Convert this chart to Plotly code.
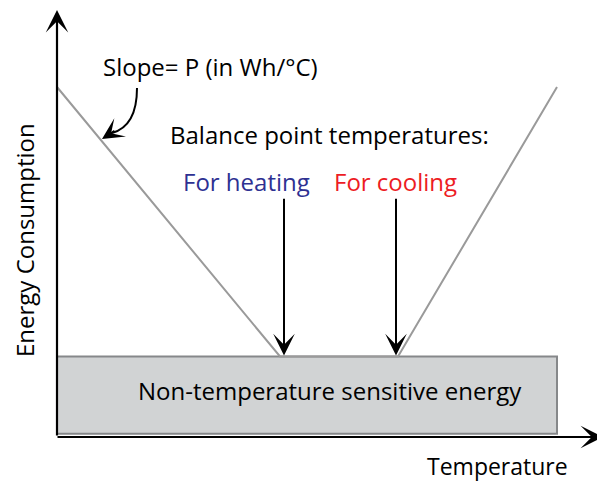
import plotly.graph_objects as go

# Conceptual data (arbitrary units)
temp_points = [0, 44.6, 68.2, 100]          # temperature
energy_points = [100, 23, 23, 100]          # energy consumption
base_energy = [0.9, 23]                     # non-temperature sensitive band
base_temp = [0, 100]
heat_bp = 44.6
cool_bp = 68.2
arrow_top = 68.5

OFF = 8                      # default page body margin
W, H = 605 - OFF, 483 - OFF  # figure size
# page-pixel <-> data mapping helpers (t=0 at px 57, 5px/unit; e=0 at py 437, 3.5px/unit)
def px2x(px): return (px - 57) / 5.0
def py2y(py): return (437 - py) / 3.5

FONT = "Open Sans"
FS = 24

fig = go.Figure()

fig.add_shape(type="rect", x0=base_temp[0], x1=base_temp[1], y0=base_energy[0], y1=base_energy[1],
              fillcolor="#d1d3d4", line=dict(color="#86888a", width=2), layer="below")

fig.add_trace(go.Scatter(x=temp_points, y=energy_points, mode="lines",
                         line=dict(color="#9a9a9a", width=2), hoverinfo="skip", showlegend=False))

ann = []
# axes arrows
ann.append(dict(x=px2x(57), y=py2y(10), ax=px2x(57), ay=py2y(437), xref="x", yref="y", axref="x", ayref="y",
                showarrow=True, arrowhead=3, arrowsize=1.7, arrowwidth=2.2, arrowcolor="black", text="", standoff=0))
ann.append(dict(x=px2x(603), y=py2y(437), ax=px2x(56), ay=py2y(437), xref="x", yref="y", axref="x", ayref="y",
                showarrow=True, arrowhead=3, arrowsize=1.7, arrowwidth=2.2, arrowcolor="black", text="", standoff=0))
# balance point arrows
for bx in [heat_bp + 0.8, cool_bp - 0.4]:
    ann.append(dict(x=bx, y=base_energy[1] + 0.3, ax=bx, ay=arrow_top, xref="x", yref="y", axref="x", ayref="y",
                    showarrow=True, arrowhead=3, arrowsize=1.8, arrowwidth=2, arrowcolor="black", text="", standoff=0))
# curved arrow head
ann.append(dict(x=px2x(102), y=py2y(139), ax=14, ay=-9, xref="x", yref="y",
                showarrow=True, arrowhead=3, arrowsize=1.8, arrowwidth=2, arrowcolor="black", text="", standoff=0))

def txt(s, cx, cy, color="black", size=FS, angle=0):
    ann.append(dict(text=s, x=(cx - OFF) / W, y=1 - (cy - OFF) / H, xref="paper", yref="paper", showarrow=False,
                    font=dict(family=FONT, size=size, color=color), textangle=angle,
                    xanchor="center", yanchor="middle"))

txt("Slope= P (in Wh/°C)", 210, 67)
txt("Balance point temperatures:", 329, 134)
txt("For heating", 247, 181, color="#2e3192")
txt("For cooling", 395, 181, color="#ed1c24")
txt("Non-temperature sensitive energy", 330, 390)
txt("Temperature", 497, 466, size=23)
txt("Energy Consumption", 25, 240, size=24, angle=-90)

fig.add_shape(type="path",
              path=f"M {px2x(137)} {py2y(88)} Q {px2x(137)} {py2y(126)} {px2x(112)} {py2y(133)}",
              xref="x", yref="y", line=dict(color="black", width=2))

fig.update_layout(width=W, height=H, margin=dict(l=0, r=0, t=0, b=0),
                  paper_bgcolor="white", plot_bgcolor="white", annotations=ann,
                  xaxis=dict(range=[px2x(OFF), px2x(OFF + W)], visible=False, fixedrange=True),
                  yaxis=dict(range=[py2y(OFF + H), py2y(OFF)], visible=False, fixedrange=True))

fig.write_html("out.html")
